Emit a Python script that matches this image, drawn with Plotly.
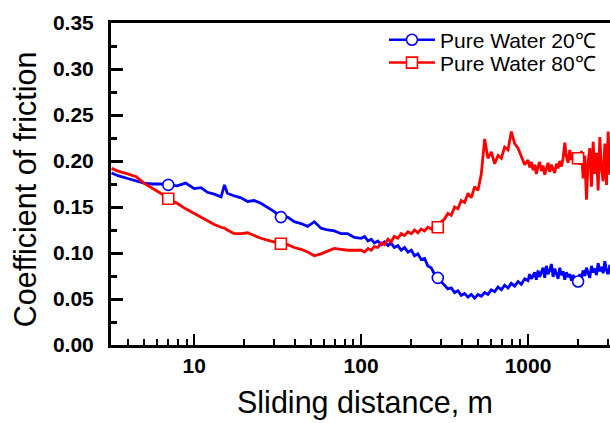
import plotly.graph_objects as go

# Sliding distance samples (m)
distance = [3.2, 3.5, 4.0, 4.5, 5.0, 5.6, 6.3, 7.0, 7.9, 8.9,
            10, 11, 12, 13.2, 14.5, 15.2, 15.8, 17.4, 19.1, 20.9, 22.9, 25.1, 27.5, 30.2, 33.1,
            36.3, 39.8, 43.7, 47.9, 52.5, 57.5, 63.1, 69.2, 75.9, 83.2, 91.2,
            100, 105, 110, 115, 120, 126, 132, 138, 145, 151, 158, 166, 174, 182, 191, 200,
            209, 219, 229, 240, 251, 263, 275, 288, 302, 316, 331, 347, 363, 380, 398, 417,
            437, 457, 479, 501, 525, 550, 575, 603, 631, 661, 692, 724, 759, 794, 832, 871,
            912, 955,
            1000, 1023, 1047, 1072, 1096, 1122, 1148, 1175, 1202, 1230, 1259, 1288, 1318,
            1349, 1380, 1413, 1445, 1479, 1514, 1549, 1585, 1622, 1660, 1698, 1738, 1778,
            1820, 1862, 1905, 1950, 1995, 2042, 2089, 2138, 2188, 2239, 2291, 2344, 2399,
            2455, 2512, 2570, 2630, 2692, 2754, 2818, 2884, 2951, 3020, 3090, 3162]

# Pure Water 20 C
cof_20 = [0.187, 0.184, 0.181, 0.178, 0.176, 0.175, 0.175, 0.174, 0.173, 0.176,
          0.170, 0.171, 0.166, 0.164, 0.161, 0.174, 0.165, 0.162, 0.160, 0.156, 0.157, 0.154,
          0.150, 0.145, 0.139, 0.139, 0.134, 0.132, 0.129, 0.134, 0.127, 0.125, 0.124, 0.121,
          0.121, 0.117,
          0.116, 0.118, 0.113, 0.115, 0.111, 0.113, 0.109, 0.112, 0.108, 0.111,
          0.106, 0.108, 0.103, 0.106, 0.101, 0.103, 0.097, 0.099, 0.093, 0.094,
          0.086, 0.084, 0.077, 0.073, 0.068, 0.065, 0.061, 0.062, 0.057, 0.059,
          0.054, 0.056, 0.052, 0.055, 0.051, 0.055, 0.053, 0.057, 0.055, 0.060,
          0.058, 0.063, 0.060, 0.065, 0.062, 0.067, 0.064, 0.069, 0.066, 0.072,
          0.070, 0.077, 0.072, 0.075, 0.079, 0.071, 0.081, 0.074, 0.078, 0.084,
          0.073, 0.086, 0.077, 0.081, 0.088, 0.074, 0.083, 0.078, 0.072, 0.084,
          0.076, 0.080, 0.071, 0.079, 0.074, 0.077, 0.070, 0.076, 0.072, 0.068,
          0.071, 0.077, 0.073, 0.081, 0.075, 0.084, 0.078, 0.073, 0.086, 0.079,
          0.083, 0.076, 0.089, 0.080, 0.085, 0.078, 0.091, 0.081, 0.077, 0.087,
          0.082]

# Pure Water 80 C
cof_80 = [0.192, 0.189, 0.186, 0.183, 0.176, 0.171, 0.165, 0.159, 0.154, 0.148,
          0.143, 0.139, 0.135, 0.131, 0.128, 0.127, 0.125, 0.121, 0.121, 0.122, 0.119, 0.116,
          0.114, 0.112, 0.110, 0.109, 0.106, 0.104, 0.101, 0.097, 0.099, 0.102, 0.105, 0.104,
          0.103, 0.103,
          0.103, 0.101, 0.105, 0.103, 0.107, 0.106, 0.111, 0.109, 0.115, 0.112,
          0.118, 0.116, 0.121, 0.119, 0.123, 0.121, 0.125, 0.122, 0.126, 0.124,
          0.128, 0.126, 0.130, 0.128, 0.134, 0.137, 0.143, 0.141, 0.150, 0.148,
          0.157, 0.155, 0.165, 0.160, 0.172, 0.168, 0.186, 0.224, 0.203, 0.210,
          0.197, 0.206, 0.203, 0.215, 0.212, 0.232, 0.219, 0.214, 0.204, 0.196,
          0.201, 0.193, 0.199, 0.190, 0.196, 0.186, 0.194, 0.199, 0.189, 0.195,
          0.185, 0.193, 0.198, 0.188, 0.196, 0.191, 0.187, 0.197, 0.192, 0.200,
          0.194, 0.203, 0.220, 0.205, 0.198, 0.212, 0.201, 0.207, 0.197, 0.204,
          0.202, 0.196, 0.211, 0.181, 0.206, 0.158, 0.199, 0.214, 0.172, 0.221,
          0.186, 0.209, 0.168, 0.226, 0.191, 0.178, 0.219, 0.174, 0.232, 0.185,
          0.212]

# symbol positions
marker_x_20 = [7.0, 33.1, 288, 1995]
marker_y_20 = [0.174, 0.139, 0.073, 0.069]
marker_x_80 = [7.0, 33.1, 288, 1995]
marker_y_80 = [0.159, 0.110, 0.128, 0.203]

series = [
    ("Pure Water 20℃", cof_20, marker_x_20, marker_y_20, "#0000FF", "circle", "legend"),
    ("Pure Water 80℃", cof_80, marker_x_80, marker_y_80, "#FF0000", "square", "legend2"),
]

x_ticks = [10, 100, 1000]
x_minor = [4, 5, 6, 7, 8, 9, 20, 30, 40, 50, 60, 70, 80, 90,
           200, 300, 400, 500, 600, 700, 800, 900, 2000, 3000]

FONT = "Arial, Liberation Sans, sans-serif"

fig = go.Figure()
for name, ys, mx, my, col, sym, lg in series:
    fig.add_trace(go.Scatter(x=distance, y=ys, mode="lines", showlegend=False,
                             line=dict(color=col, width=2.8)))
for name, ys, mx, my, col, sym, lg in series:
    fig.add_trace(go.Scatter(x=mx, y=my, mode="markers", showlegend=False,
                             marker=dict(symbol=sym, size=11, color="white",
                                         line=dict(color=col, width=1.6))))
for name, ys, mx, my, col, sym, lg in series:
    fig.add_trace(go.Scatter(x=[None], y=[None], mode="lines+markers", name=name, legend=lg,
                             line=dict(color=col, width=2.5),
                             marker=dict(symbol=sym, size=11, color="white",
                                         line=dict(color=col, width=1.6))))

leg_common = dict(x=0.547, xanchor="left", yanchor="middle", bgcolor="rgba(0,0,0,0)",
                  font=dict(size=21, color="black", family=FONT), itemwidth=46)

fig.update_layout(
    width=610, height=423,
    margin=dict(l=111, r=0, t=23, b=78),
    paper_bgcolor="white", plot_bgcolor="white",
    font=dict(family=FONT, color="black"),
    showlegend=True,
    legend=dict(y=0.947, **leg_common),
    legend2=dict(y=0.876, **leg_common),
    xaxis=dict(type="log", range=[0.502, 3.491], showline=True, linecolor="black",
               linewidth=3, mirror=True, showgrid=False, zeroline=False,
               tickmode="array", tickvals=x_ticks, ticktext=[str(v) for v in x_ticks],
               ticks="inside", ticklen=11, tickwidth=2, tickcolor="black",
               tickfont=dict(size=21, family=FONT, weight="bold"),
               minor=dict(tickmode="array", tickvals=x_minor, ticks="inside", ticklen=6,
                          tickwidth=2, tickcolor="black", showgrid=False),
               automargin=False),
    yaxis=dict(range=[0, 0.35], showline=True, linecolor="black", linewidth=3,
               mirror=False, showgrid=False, zeroline=False,
               tickmode="linear", tick0=0, dtick=0.05, tickformat=".2f",
               ticks="inside", ticklen=12, tickwidth=2.5, tickcolor="black",
               ticklabelstandoff=10,
               tickfont=dict(size=21, family=FONT, weight="bold"),
               minor=dict(dtick=0.025, tick0=0, ticks="inside", ticklen=6, tickwidth=2.5,
                          tickcolor="black", showgrid=False),
               automargin=False),
    annotations=[
        dict(text="Sliding distance, m", xref="paper", yref="paper", x=0.509, y=-0.18,
             xanchor="center", yanchor="middle", showarrow=False,
             font=dict(size=30.5, family=FONT)),
        dict(text="Coefficient of friction", xref="paper", yref="paper", x=-0.172, y=0.484,
             xanchor="center", yanchor="middle", textangle=-90, showarrow=False,
             font=dict(size=30.5, family=FONT)),
    ],
)

fig.write_html("out.html")
